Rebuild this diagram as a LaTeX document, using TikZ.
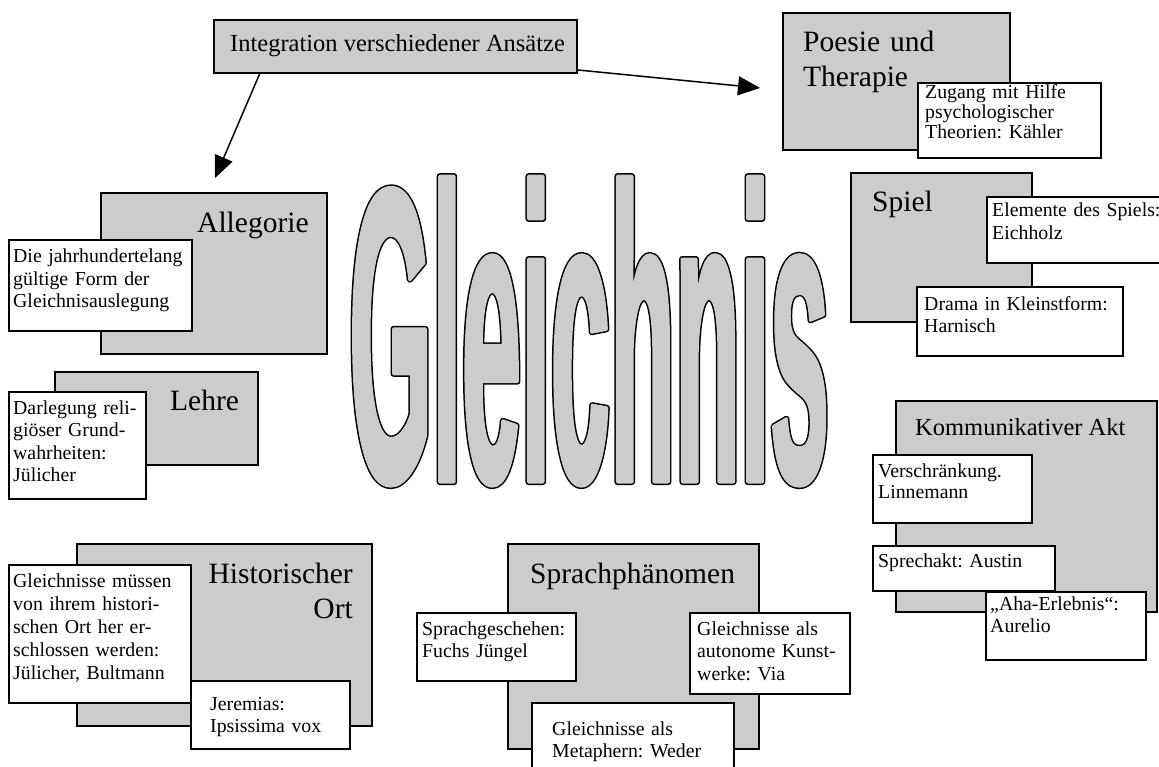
\documentclass[tikz,border=0pt]{standalone}
\usepackage{fontspec}
\setmainfont{Liberation Serif}
\newfontfamily\bigfont{Liberation Sans Bold}[FakeStretch=0.2526]
\usetikzlibrary{arrows.meta,calc}
\definecolor{dotgray}{gray}{0.8}
\frenchspacing
\begin{document}
\begin{tikzpicture}[x=1pt,y=-1pt,
  gbox/.style={draw, line width=1.7pt, fill=dotgray, inner sep=0pt, outer sep=0pt, anchor=north west},
  wbox/.style={draw, line width=1.7pt, fill=white, inner sep=0pt, outer sep=0pt, anchor=north west},
  head/.style={anchor=base west, inner sep=0pt, font=\fontsize{29.5}{35}\selectfont},
  headm/.style={anchor=base west, inner sep=0pt, font=\fontsize{24.5}{29}\selectfont},
  small/.style={anchor=base west, inner sep=0pt, text width=190pt, align=left, font=\fontsize{19.8}{22.5}\selectfont},
  arr/.style={line width=1.5pt, -{Triangle[length=22pt,width=19pt]}}
]
\useasboundingbox (0,0) rectangle (1159,767);
\clip (0,0) rectangle (1159,767);

% grey boxes
\node[gbox, minimum width=363, minimum height=53] (integ) at (214,20) {};
\node[gbox, minimum width=227, minimum height=137] (poesie) at (783,13) {};
\node[gbox, minimum width=226, minimum height=161] (alleg) at (101,193) {};
\node[gbox, minimum width=203, minimum height=93] (lehre) at (55,372) {};
\node[gbox, minimum width=181, minimum height=149] (spiel) at (851,173) {};
\node[gbox, minimum width=261, minimum height=211] (komm) at (896,401) {};
\node[gbox, minimum width=295, minimum height=182] (hist) at (77,544) {};
\node[gbox, minimum width=251, minimum height=205] (sprach) at (508,544) {};

% white boxes
\node[wbox, minimum width=183, minimum height=75] (zugang) at (918,83) {};
\node[wbox, minimum width=183, minimum height=91] (diej) at (9,240) {};
\node[wbox, minimum width=137, minimum height=107] (darleg) at (9,392) {};
\node[wbox, minimum width=180, minimum height=66] (elem) at (987,197) {};
\node[wbox, minimum width=206, minimum height=69] (drama) at (917,287) {};
\node[wbox, minimum width=159, minimum height=68] (versch) at (873,455) {};
\node[wbox, minimum width=182, minimum height=45] (sprechakt) at (873,546) {};
\node[wbox, minimum width=160, minimum height=68] (aha) at (986,592) {};
\node[wbox, minimum width=182, minimum height=138] (muessen) at (9,565) {};
\node[wbox, minimum width=159, minimum height=68] (jerem) at (191,681) {};
\node[wbox, minimum width=159, minimum height=68] (sgesch) at (417,613) {};
\node[wbox, minimum width=160, minimum height=81] (auton) at (690,613) {};
\node[wbox, minimum width=202, minimum height=70] (metaph) at (532,703) {};

% big title: black outer outline, then grey body
\node[anchor=base west, inner sep=0pt] (gl) at (349,482) {\bigfont\fontsize{422}{422}\selectfont
  \special{pdf:literal q 0 G 0 g 2 Tr 6 w 1 j}\rlap{Gleichnis}\special{pdf:literal Q}%
  \special{pdf:literal q 0.8 G 0.8 g 2 Tr 3 w 1 j}\rlap{Gleichnis}\special{pdf:literal Q}%
  \phantom{Gleichnis}};

% arrows
\coordinate (t1) at (215,178);
\coordinate (t2) at (760,88);
\draw[arr] ($(integ.south west)+(46,0)$) -- (t1);
\draw[arr] ($(integ.south east)+(1,-3)$) -- (t2);

% texts
\node[headm] (tinteg) at (230,52) {Integration verschiedener Ansätze};
\node[head, text width=200pt, align=left] (tpoesie) at (803,52) {Poesie und\\Therapie};
\node[small, font=\fontsize{19.8}{20}\selectfont] (tzugang) at (925,99) {Zugang mit Hilfe\\psychologischer\\Theorien: Kähler};
\node[head] (talleg) at (197,233) {Allegorie};
\node[small] (tdiej) at (13,263) {Die jahrhundertelang\\gültige Form der\\Gleichnisauslegung};
\node[head] (tlehre) at (170,410) {Lehre};
\node[small] (tdarleg) at (13,414) {Darlegung reli-\\giöser Grund-\\wahrheiten:\\Jülicher};
\node[head] (tspiel) at (872,212) {Spiel};
\node[small] (telem) at (992,217) {Elemente des Spiels:\\Eichholz};
\node[small, text width=210pt] (tdrama) at (924,310) {Drama in Kleinstform:\\Harnisch};
\node[headm] (tkomm) at (915,435) {Kommunikativer Akt};
\node[small, font=\fontsize{19.8}{21}\selectfont] (tversch) at (878,477) {Verschränkung.\\Linnemann};
\node[small] (tsprechakt) at (878,567) {Sprechakt: Austin};
\node[small] (taha) at (990,610) {„Aha-Erlebnis“:\\Aurelio};
\node[head, anchor=base east, text width=160pt, align=right] (thist) at (353,583) {Historischer\\Ort};
\node[small, font=\fontsize{19.8}{23.2}\selectfont] (tmuessen) at (13,587) {Gleichnisse müssen\\von ihrem histori-\\schen Ort her er-\\schlossen werden:\\Jülicher, Bultmann};
\node[small] (tjerem) at (210,710) {Jeremias:\\Ipsissima vox};
\node[head] (tsprach) at (530,583) {Sprachphänomen};
\node[small] (tsgesch) at (422,635) {Sprachgeschehen:\\Fuchs Jüngel};
\node[small] (tauton) at (697,635) {Gleichnisse als\\autonome Kunst-\\werke: Via};
\node[small] (tmetaph) at (552,735) {Gleichnisse als\\Metaphern: Weder};
\end{tikzpicture}
\end{document}
